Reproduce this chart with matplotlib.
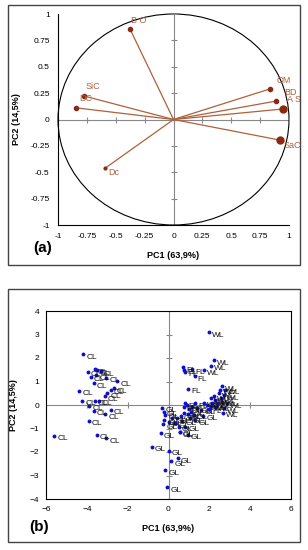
import numpy as np
import matplotlib
matplotlib.use('Agg')
from matplotlib import pyplot as plt
from matplotlib.patches import Circle, Rectangle

plt.rcParams['font.family'] = ['Liberation Sans', 'DejaVu Sans']

# (a) loadings
var_names = ['B O', 'SiC', 'DC', 'OM', 'BD', 'A S', 'SaC', 'Dc']
var_pc1 = [-0.377, -0.775, -0.84, 0.835, 0.89, 0.95, 0.92, -0.59]
var_pc2 = [0.858, 0.223, 0.11, 0.29, 0.175, 0.10, -0.195, -0.46]
var_size = [3, 3, 3, 3, 3, 5, 5, 2]
# label offsets in pixels
var_off = [(1, 8), (2, 9), (3, 9), (7, 8), (8, 9), (4, 9), (4, -5), (3, -4)]

# (b) scores
cl_x = [-4.18, -3.96, -3.61, -3.5, -3.33, -3.54, -3.82, -3.04, -2.51, -3.66,
        -4.36, -4.23, -3.61, -3.42, -3.12, -3.0, -2.84, -2.68,
        -3.87, -3.66, -3.09, -2.84, -3.9, -3.5, -3.04, -5.59]
cl_y = [2.15, 1.41, 1.52, 1.48, 1.44, 1.26, 1.2, 1.17, 1.02, 0.92,
        0.61, 0.18, 0.18, 0.18, 0.38, 0.49, 0.64, 0.71,
        -0.04, -0.24, -0.4, -0.21, -0.66, -1.27, -1.41, -1.31]
gl_x = [-0.39, -0.83, 0.01, 0.46, 0.13, -0.15, -0.06, 0.55,
        -0.31, -0.23, -0.15, -0.2, -0.26, 0.02, 0.18, 0.34, 0.42, 0.59,
        0.75, 0.67, 0.5, 0.55, 1.0, 1.08, 0.95, 1.24, 1.04, 0.83,
        1.41, 1.32, 0.95, 1.6, 1.7]
gl_y = [-1.2, -1.77, -1.94, -2.26, -2.4, -2.78, -3.49, -1.17,
        -0.11, -0.28, -0.42, -0.64, -0.82, -0.71, -0.56, -0.78, -0.56, -0.45,
        -0.35, -0.68, -0.92, -1.13, -0.17, -0.28, -0.39, -0.42, -0.56, -0.92,
        -0.14, -0.64, -1.27, -0.2, -0.45]
fl_x = [0.72, 0.76, 0.83, 1.16, 1.29, 0.96, 0.75, 0.83, 0.92, 1.16, 1.32, 1.98]
fl_y = [1.6, 1.5, 1.41, 1.52, 1.23, 0.69, -0.07, 0.07, 0.0, -0.07, 0.07, -0.17]
wl_x = [1.98, 2.09, 2.22, 1.76,
        2.09, 2.22, 2.3, 2.47, 2.39, 2.55, 2.63, 2.71, 2.79, 2.88, 2.52, 2.63,
        2.06, 2.71, 2.68, 2.3, 2.14, 1.9, 1.73]
wl_y = [3.1, 1.67, 1.91, 1.48,
        0.28, 0.38, 0.21, 0.49, 0.07, 0.28, 0.14, 0.42, 0.64, 0.07, 0.64, 0.8,
        -0.04, -0.14, -0.33, -0.07, 0.07, 0.0, 0.1]

fig = plt.figure(figsize=(3.08, 5.5), dpi=100)

# outer boxes
fig.add_artist(Rectangle((8 / 308, 1 - 265 / 550), 292 / 308, 260 / 550,
                         transform=fig.transFigure, fill=False, ec='#444444', lw=1))
fig.add_artist(Rectangle((8 / 308, 1 - 542 / 550), 292 / 308, 253 / 550,
                         transform=fig.transFigure, fill=False, ec='#444444', lw=1))

def zero_axes(ax, xt, yt, ln):
    ax.axhline(0, color='#888888', lw=0.8, zorder=1)
    ax.axvline(0, color='#888888', lw=0.8, zorder=1)
    ax.plot(xt, np.zeros(len(xt)), ls='none', marker='|', ms=ln, color='#888888', mew=0.8)
    ax.plot(np.zeros(len(yt)), yt, ls='none', marker='_', ms=ln, color='#888888', mew=0.8)

# ---- (a)
ax1 = fig.add_axes([58 / 308, 1 - 225 / 550, 231 / 308, 211 / 550])
ax1.set_xlim(-1, 1)
ax1.set_ylim(-1, 1)
ticks_a = np.arange(-1, 1.01, 0.25)
ax1.set_xticks(ticks_a)
ax1.set_yticks(ticks_a)
ax1.set_xticklabels(['-1', '-0.75', '-0.5', '-0.25', '0', '0.25', '0.5', '0.75', '1'])
ax1.set_yticklabels(['-1', '-0.75', '-0.5', '-0.25', '0', '0.25', '0.5', '0.75', '1'])
ax1.tick_params(length=0, labelsize=6, pad=6)
for s in ['top', 'right']:
    ax1.spines[s].set_visible(False)
for s in ['left', 'bottom']:
    ax1.spines[s].set_linewidth(0.8)
zero_axes(ax1, ticks_a, ticks_a, 4)
ax1.add_patch(Circle((0, 0), 1, fill=False, ec='black', lw=0.8, clip_on=False))
for name, x, y, ms, off in zip(var_names, var_pc1, var_pc2, var_size, var_off):
    ax1.plot([0, x], [0, y], color='#B0603A', lw=0.9, zorder=2)
    ax1.plot(x, y, 'o', color='#8B2A10', ms=ms, zorder=3, clip_on=False)
    ax1.annotate(name, (x, y), xytext=off, textcoords='offset pixels',
                 fontsize=6.5, color='#B0603A', ha='left', va='center',
                 annotation_clip=False)
ax1.set_xlabel('PC1 (63,9%)', fontsize=6.5, fontweight='bold', labelpad=8)
ax1.set_ylabel('PC2 (14,5%)', fontsize=6.5, fontweight='bold', labelpad=7)
fig.text(33 / 308, 1 - 248 / 550, '(a)', fontsize=11, fontweight='bold', va='center')

# ---- (b)
ax2 = fig.add_axes([46 / 308, 1 - 499 / 550, 245 / 308, 188 / 550])
ax2.set_xlim(-6, 6)
ax2.set_ylim(-4, 4)
xt_b = np.arange(-6, 7, 2)
yt_b = np.arange(-4, 5, 1)
ax2.set_xticks(xt_b)
ax2.set_yticks(yt_b)
ax2.tick_params(length=0, labelsize=6, pad=5)
for s in ax2.spines.values():
    s.set_linewidth(0.8)
zero_axes(ax2, xt_b, yt_b, 4)
groups = [('CL', cl_x, cl_y), ('GL', gl_x, gl_y), ('FL', fl_x, fl_y), ('WL', wl_x, wl_y)]
for lab, xs, ys in groups:
    ax2.plot(xs, ys, 'o', color='#1010CC', ms=1.8, zorder=3)
    for x, y in zip(xs, ys):
        ax2.annotate(lab, (x, y), xytext=(3, -3), textcoords='offset pixels',
                     fontsize=6, color='#111111', ha='left', va='center')
ax2.set_xlabel('PC1 (63,9%)', fontsize=6.5, fontweight='bold', labelpad=8)
ax2.set_ylabel('PC2 (14,5%)', fontsize=6.5, fontweight='bold', labelpad=8)
fig.text(29 / 308, 1 - 527 / 550, '(b)', fontsize=11, fontweight='bold', va='center')

fig.savefig('out.png', dpi=100)
